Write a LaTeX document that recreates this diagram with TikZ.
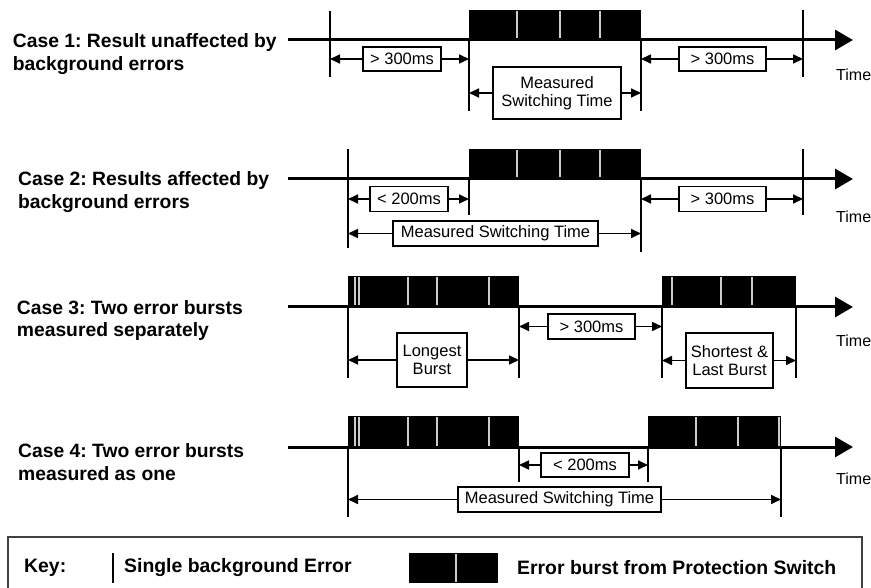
\documentclass[tikz,border=0pt]{standalone}
\usepackage{fontspec}
\setmainfont{Liberation Sans}
\usetikzlibrary{arrows.meta}
\frenchspacing
\begin{document}
\begin{tikzpicture}[x=1pt,y=-1pt,
  axis/.style={line width=3pt,-{Triangle[length=18pt,width=20pt]}},
  err/.style={line width=2.6pt},
  tickline/.style={line width=1.5pt},
  burst/.style={fill=black},
  divider/.style={draw=white!80!black,line width=1.1pt},
  dim/.style={line width=1.7pt,-{Triangle[length=10pt,width=9pt]}},
  lbl/.style={draw,line width=1.5pt,inner sep=0pt,font=\fontsize{16.5}{18.5}\selectfont,align=center},
  casetext/.style={anchor=base west,align=left,inner sep=0pt,font=\fontsize{19.3}{22.5}\selectfont\bfseries},
  timelbl/.style={anchor=west,inner sep=0pt,font=\fontsize{16}{18}\selectfont},
  keytext/.style={anchor=west,inner sep=0pt,font=\fontsize{19.4}{22}\selectfont\bfseries},
]
\useasboundingbox (0,0) rectangle (871,588);

% ---------------- Case 1 ----------------
\node[casetext] (c1) at (12.7,70.5) {Case 1: Result unaffected by\\background errors};
\coordinate (a1s) at (288,40); \coordinate (a1e) at (853,40);
\fill[burst] (469,10) rectangle (641,40);
\foreach \x in {517,560,600} \draw[divider] (\x,11) -- (\x,39);
\draw[axis] (a1s) -- (a1e);
\draw[err] (330,11) -- (330,40);
\draw[err] (803,10) -- (803,40);
\coordinate (t1a) at (330,40); \coordinate (t1b) at (469,40);
\coordinate (t1c) at (641,40); \coordinate (t1d) at (803,40);
\draw[tickline] (t1a) -- (330,77);
\draw[tickline] (t1b) -- (469,111);
\draw[tickline] (t1c) -- (641,111);
\draw[tickline] (t1d) -- (803,77);
\node[lbl,minimum width=78,minimum height=24] (b1a) at (402,59) {> 300ms};
\draw[dim] (b1a.west) -- (b1a.west -| t1a);
\draw[dim] (b1a.east) -- (b1a.east -| t1b);
\node[lbl,minimum width=128,minimum height=52] (b1b) at (557,93) {Measured\\Switching Time};
\draw[dim] (b1b.west) -- (b1b.west -| t1b);
\draw[dim] (b1b.east) -- (b1b.east -| t1c);
\node[lbl,minimum width=87,minimum height=24] (b1c) at (722.5,59) {> 300ms};
\draw[dim] (b1c.west) -- (b1c.west -| t1c);
\draw[dim] (b1c.east) -- (b1c.east -| t1d);
\node[timelbl] (time1) at (836,75) {Time};

% ---------------- Case 2 ----------------
\node[casetext] (c2) at (18,208.5) {Case 2: Results affected by\\background errors};
\coordinate (a2s) at (288,179); \coordinate (a2e) at (853,179);
\fill[burst] (469,149) rectangle (641,179);
\foreach \x in {517,560,600} \draw[divider] (\x,150) -- (\x,178);
\draw[axis] (a2s) -- (a2e);
\draw[err] (348,149) -- (348,179);
\draw[err] (803,149) -- (803,179);
\coordinate (t2a) at (348,179); \coordinate (t2b) at (469,179);
\coordinate (t2c) at (641,179); \coordinate (t2d) at (803,179);
\draw[tickline] (t2a) -- (348,248);
\draw[tickline] (t2b) -- (469,215);
\draw[tickline] (t2c) -- (641,252);
\draw[tickline] (t2d) -- (803,215);
\node[lbl,minimum width=78,minimum height=25] (b2a) at (409,199) {< 200ms};
\draw[dim] (b2a.west) -- (b2a.west -| t2a);
\draw[dim] (b2a.east) -- (b2a.east -| t2b);
\node[lbl,minimum width=205,minimum height=25] (b2b) at (495.5,233.5) {Measured Switching Time};
\draw[dim] (b2b.west) -- (b2b.west -| t2a);
\draw[dim] (b2b.east) -- (b2b.east -| t2c);
\node[lbl,minimum width=87,minimum height=25] (b2c) at (722.5,199) {> 300ms};
\draw[dim] (b2c.west) -- (b2c.west -| t2c);
\draw[dim] (b2c.east) -- (b2c.east -| t2d);
\node[timelbl] (time2) at (836,217) {Time};

% ---------------- Case 3 ----------------
\node[casetext] (c3) at (16.7,337) {Case 3: Two error bursts\\measured separately};
\coordinate (a3s) at (288,307); \coordinate (a3e) at (853,307);
\fill[burst] (348,276) rectangle (519,307);
\foreach \x in {355,359,408,437,489} \draw[divider] (\x,277) -- (\x,306);
\fill[burst] (662,276) rectangle (796,307);
\foreach \x in {672,721,752} \draw[divider] (\x,277) -- (\x,306);
\draw[axis] (a3s) -- (a3e);
\coordinate (t3a) at (348,307); \coordinate (t3b) at (519,307);
\coordinate (t3c) at (662,307); \coordinate (t3d) at (796,307);
\draw[tickline] (t3a) -- (348,378);
\draw[tickline] (t3b) -- (519,378);
\draw[tickline] (t3c) -- (662,378);
\draw[tickline] (t3d) -- (796,378);
\node[lbl,minimum width=70,minimum height=54] (b3a) at (432,360) {Longest\\Burst};
\draw[dim] (b3a.west) -- (b3a.west -| t3a);
\draw[dim] (b3a.east) -- (b3a.east -| t3b);
\node[lbl,minimum width=87,minimum height=25] (b3b) at (591.5,326.5) {> 300ms};
\draw[dim] (b3b.west) -- (b3b.west -| t3b);
\draw[dim] (b3b.east) -- (b3b.east -| t3c);
\node[lbl,minimum width=87,minimum height=55] (b3c) at (729.5,360.5) {Shortest \&\\Last Burst};
\draw[dim] (b3c.west) -- (b3c.west -| t3c);
\draw[dim] (b3c.east) -- (b3c.east -| t3d);
\node[timelbl] (time3) at (836,341) {Time};

% ---------------- Case 4 ----------------
\node[casetext] (c4) at (18,480) {Case 4: Two error bursts\\measured as one};
\coordinate (a4s) at (288,447); \coordinate (a4e) at (853,447);
\fill[burst] (348,416) rectangle (519,447);
\foreach \x in {355,359,408,437,489} \draw[divider] (\x,417) -- (\x,446);
\fill[burst] (648,416) rectangle (781,447);
\foreach \x in {696,738,779} \draw[divider] (\x,417) -- (\x,446);
\draw[axis] (a4s) -- (a4e);
\coordinate (t4a) at (348,447); \coordinate (t4b) at (519,447);
\coordinate (t4c) at (648,447); \coordinate (t4d) at (781,447);
\draw[tickline] (t4a) -- (348,517);
\draw[tickline] (t4b) -- (519,482);
\draw[tickline] (t4c) -- (648,482);
\draw[tickline] (t4d) -- (781,517);
\node[lbl,minimum width=88,minimum height=24] (b4a) at (585,465) {< 200ms};
\draw[dim] (b4a.west) -- (b4a.west -| t4b);
\draw[dim] (b4a.east) -- (b4a.east -| t4c);
\node[lbl,minimum width=203,minimum height=25] (b4b) at (559.5,499.5) {Measured Switching Time};
\draw[dim] (b4b.west) -- (b4b.west -| t4a);
\draw[dim] (b4b.east) -- (b4b.east -| t4d);
\node[timelbl] (time4) at (836,479) {Time};

% ---------------- Key ----------------
\draw[line width=1.8pt,black!75] (8,537) rectangle (862,596);
\node[keytext] (keylbl) at (24,568) {Key:};
\draw[err] (113,553) -- (113,583);
\node[keytext] (keyerr) at (124,568) {Single background Error};
\fill[burst] (409,553) rectangle (498,583);
\draw[divider] (456,554) -- (456,582);
\node[keytext] (keyburst) at (517,568) {Error burst from Protection Switch};
\end{tikzpicture}
\end{document}
